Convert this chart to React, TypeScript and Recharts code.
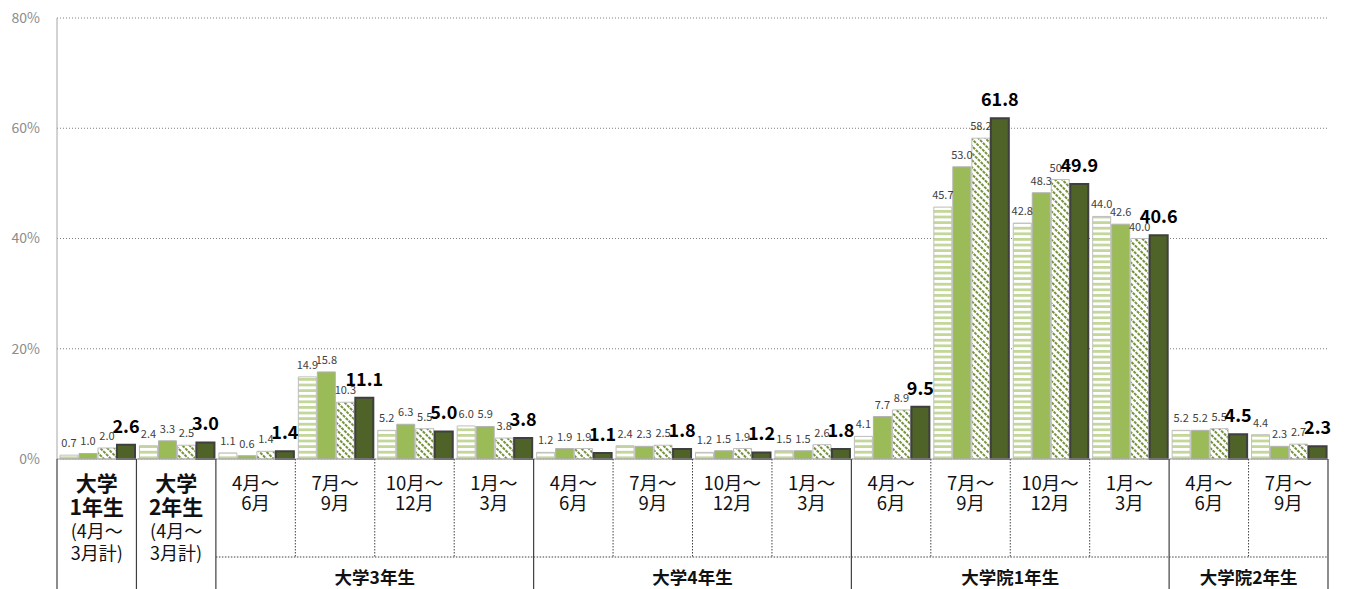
import React from "react";
import { BarChart, Bar, XAxis, YAxis, CartesianGrid, LabelList } from "recharts";

// 時期ラベル（\n で改行）
const categories = [
  "大学\n1年生", "大学\n2年生",
  "4月～\n6月", "7月～\n9月", "10月～\n12月", "1月～\n3月",
  "4月～\n6月", "7月～\n9月", "10月～\n12月", "1月～\n3月",
  "4月～\n6月", "7月～\n9月", "10月～\n12月", "1月～\n3月",
  "4月～\n6月", "7月～\n9月",
];
const soloNote = ["(4月～", "3月計)"];
const soloCount = 2;

const groupNames = ["大学3年生", "大学4年生", "大学院1年生", "大学院2年生"];
const groupSizes = [4, 4, 4, 2];

const s1 = [0.7, 2.4, 1.1, 14.9, 5.2, 6.0, 1.2, 2.4, 1.2, 1.5, 4.1, 45.7, 42.8, 44.0, 5.2, 4.4];
const s2 = [1.0, 3.3, 0.6, 15.8, 6.3, 5.9, 1.9, 2.3, 1.5, 1.5, 7.7, 53.0, 48.3, 42.6, 5.2, 2.3];
const s3 = [2.0, 2.5, 1.4, 10.3, 5.5, 3.8, 1.9, 2.5, 1.9, 2.6, 8.9, 58.2, 50.7, 40.0, 5.5, 2.7];
const s4 = [2.6, 3.0, 1.4, 11.1, 5.0, 3.8, 1.1, 1.8, 1.2, 1.8, 9.5, 61.8, 49.9, 40.6, 4.5, 2.3];

const yTicks = [0, 20, 40, 60, 80];

const rows = categories.map((label, i) => ({
  id: String(i),
  label,
  s1: s1[i],
  s2: s2[i],
  s3: s3[i],
  s4: s4[i],
}));

const W = 1355;
const H = 589;
const MARGIN = { top: 18, right: 27, left: 0, bottom: 0 };
const Y_AXIS_W = 57;
const X_AXIS_H = 130;
const BAND = (W - MARGIN.left - MARGIN.right - Y_AXIS_W) / categories.length;

const FONT = "'Noto Sans CJK JP', 'Noto Sans', sans-serif";
const LINE = "#404040";

// group start index / size lookup
const groupStarts: number[] = [];
{
  let s = soloCount;
  groupSizes.forEach((n) => {
    groupStarts.push(s);
    s += n;
  });
}
const isGroupEnd = (i: number) =>
  groupStarts.some((s, g) => i === s + groupSizes[g] - 1);

function CategoryTick(props: any) {
  const { x, y, payload } = props;
  const i = Number(payload.value);
  const left = x - BAND / 2;
  const right = x + BAND / 2;
  const lines = categories[i].split("\n");
  const out: React.ReactNode[] = [];

  if (i < soloCount) {
    lines.forEach((t, k) => (
      out.push(
        <text key={"b" + k} x={x} y={y + 23 + k * 24} textAnchor="middle" dominantBaseline="central"
          fontSize={21} fontWeight={700} fill="#111" fontFamily={FONT}>{t}</text>
      )
    ));
    soloNote.forEach((t, k) => (
      out.push(
        <text key={"n" + k} x={x} y={y + 71 + k * 22} textAnchor="middle" dominantBaseline="central"
          fontSize={18} fill="#111" fontFamily={FONT}>{t}</text>
      )
    ));
  } else {
    lines.forEach((t, k) => (
      out.push(
        <text key={"c" + k} x={x} y={y + 23 + k * 20} textAnchor="middle" dominantBaseline="central"
          fontSize={18.5} fill="#111" fontFamily={FONT}>{t}</text>
      )
    ));
  }

  if (i === 0) {
    out.push(<line key="l0" x1={left} x2={left} y1={y} y2={y + X_AXIS_H} stroke={LINE} strokeWidth={1.2} />);
  }
  if (i < soloCount || isGroupEnd(i)) {
    out.push(<line key="r" x1={right} x2={right} y1={y} y2={y + X_AXIS_H} stroke={LINE} strokeWidth={1.2} />);
  } else {
    out.push(<line key="r" x1={right} x2={right} y1={y} y2={y + 98} stroke={LINE} strokeDasharray="1.5 1.5" />);
  }

  const g = groupStarts.indexOf(i);
  if (g >= 0) {
    const span = groupSizes[g] * BAND;
    out.push(<line key="h" x1={left} x2={left + span} y1={y + 98} y2={y + 98} stroke={LINE} strokeDasharray="1.5 1.5" />);
    out.push(
      <text key="g" x={left + span / 2} y={y + 117} textAnchor="middle" dominantBaseline="central"
        fontSize={17.5} fontWeight={700} fill="#111" fontFamily={FONT}>{groupNames[g]}</text>
    );
  }
  return <g>{out}</g>;
}

const fmt = (v: any) => Number(v).toFixed(1);
const smallLabel = { fontSize: 11, fill: "#404040", fontFamily: FONT };

export default function App() {
  return (
    <div style={{ position: "absolute", left: 0, top: 0, width: W, height: H, background: "#fff" }}>
      <BarChart width={W} height={H} data={rows} margin={MARGIN} barCategoryGap={3} barGap={1}>
        <defs>
          <pattern id="hstripe" patternUnits="userSpaceOnUse" width="6" height="5.6">
            <rect width="6" height="5.6" fill="#fff" />
            <rect y="2.8" width="6" height="2.8" fill="#c4d79b" />
          </pattern>
          <pattern id="diag" patternUnits="userSpaceOnUse" width="4" height="5" patternTransform="rotate(45)">
            <rect width="4" height="5" fill="#fff" />
            <rect width="3" height="2" fill="#76923c" />
          </pattern>
        </defs>
        <CartesianGrid vertical={false} stroke="#7f7f7f" strokeDasharray="1 2" />
        <XAxis
          dataKey="id"
          interval={0}
          height={X_AXIS_H}
          tickLine={false}
          tickSize={0}
          tickMargin={0}
          axisLine={{ stroke: "#a6a6a6" }}
          tick={<CategoryTick />}
        />
        <YAxis
          width={Y_AXIS_W}
          domain={[0, 80]}
          ticks={yTicks}
          tickFormatter={(v) => `${v}%`}
          tickLine={false}
          tickSize={0}
          tickMargin={17}
          axisLine={{ stroke: "#a6a6a6" }}
          tick={{ fontSize: 14, fill: "#8c8c8c", fontFamily: FONT }}
        />
        <Bar dataKey="s1" fill="url(#hstripe)" stroke="#bfbfbf" strokeWidth={1} isAnimationActive={false}>
          <LabelList dataKey="s1" position="top" offset={8} formatter={fmt} {...smallLabel} />
        </Bar>
        <Bar dataKey="s2" fill="#9bbb59" stroke="#b3b3b3" strokeWidth={1} isAnimationActive={false}>
          <LabelList dataKey="s2" position="top" offset={8} formatter={fmt} {...smallLabel} />
        </Bar>
        <Bar dataKey="s3" fill="url(#diag)" stroke="#bfbfbf" strokeWidth={1} isAnimationActive={false}>
          <LabelList dataKey="s3" position="top" offset={8} formatter={fmt} {...smallLabel} />
        </Bar>
        <Bar dataKey="s4" fill="#4f6228" stroke="#3f3f3f" strokeWidth={2} isAnimationActive={false}>
          <LabelList dataKey="s4" position="top" offset={12} formatter={fmt}
            fontSize={18} fontWeight={700} fill="#000" fontFamily={FONT} />
        </Bar>
      </BarChart>
    </div>
  );
}
